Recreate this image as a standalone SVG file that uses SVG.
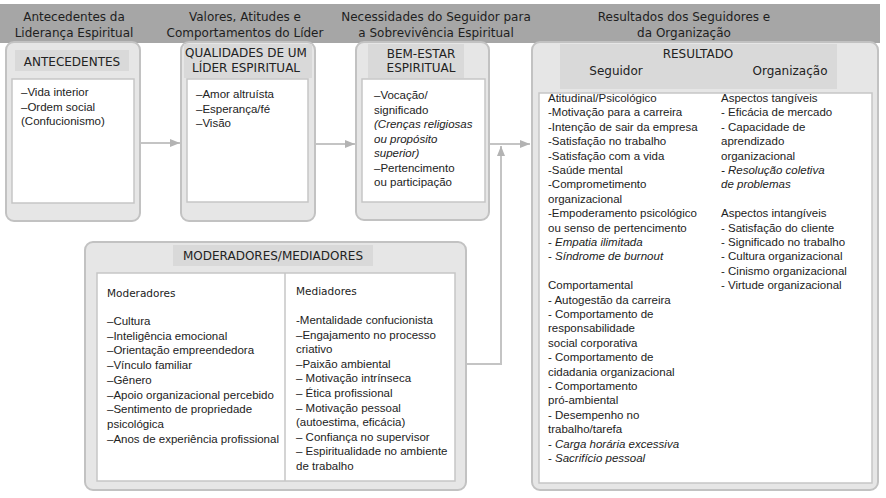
<svg xmlns="http://www.w3.org/2000/svg" width="886" height="498" viewBox="0 0 886 498">
<defs>
<marker id="arr" markerUnits="userSpaceOnUse" markerWidth="10" markerHeight="8" refX="10" refY="4" orient="auto">
<path d="M0,0 L10,4 L0,8 z" fill="#b3b3b3"/>
</marker>
<style>
.hdr{font-family:"DejaVu Sans",Verdana,sans-serif;font-size:12px;fill:#1e1e1e;text-anchor:middle}
.ttl{font-family:"DejaVu Sans",Verdana,sans-serif;font-size:12px;fill:#222;text-anchor:middle}
.sub{font-family:"DejaVu Sans",Verdana,sans-serif;font-size:10.5px;fill:#222}
.body{font-family:"Liberation Sans",Arial,sans-serif;font-size:11.5px;fill:#222}
.it{font-style:italic}
.frame{fill:#e6e6e6;stroke:#c2c2c2;stroke-width:2}
.tbg{fill:#d9d9d9}
.inner{fill:#ffffff;stroke:#c6c6c6;stroke-width:1.5}
.conn{fill:none;stroke:#c4c4c4;stroke-width:2}
</style>
</defs>
<rect width="886" height="498" fill="#ffffff"/>

<g id="header">
<rect x="0" y="4" width="880" height="39" fill="#a6a6a6"/>
<text class="hdr" x="74" y="21">Antecedentes da</text>
<text class="hdr" x="74" y="37">Liderança Espiritual</text>
<text class="hdr" x="245" y="21">Valores, Atitudes e</text>
<text class="hdr" x="245" y="37">Comportamentos do Líder</text>
<text class="hdr" x="436" y="21">Necessidades do Seguidor para</text>
<text class="hdr" x="436" y="37">a Sobrevivência Espiritual</text>
<text class="hdr" x="684" y="21">Resultados dos Seguidores e</text>
<text class="hdr" x="684" y="37">da Organização</text>
</g>

<g id="connectors">
<path class="conn" d="M140,143 L180,143" marker-end="url(#arr)"/>
<path class="conn" d="M315,144 L355,144" marker-end="url(#arr)"/>
<path class="conn" d="M489,144 L530,144" marker-end="url(#arr)"/>
<path class="conn" d="M466,364 L501,364 L501,146" marker-end="url(#arr)"/>
</g>

<g id="antecedentes">
<rect class="frame" x="6" y="42" width="134" height="179" rx="8"/>
<rect class="tbg" x="15" y="50" width="114" height="21"/>
<text class="ttl" x="72" y="66">ANTECEDENTES</text>
<rect class="inner" x="12" y="79" width="122" height="124"/>
<text class="body" x="21" y="96">–Vida interior</text>
<text class="body" x="21" y="110.5">–Ordem social</text>
<text class="body" x="21" y="125">(Confucionismo)</text>
</g>

<g id="qualidades">
<rect class="frame" x="181" y="42" width="134" height="179" rx="8"/>
<rect class="tbg" x="184" y="44" width="128" height="34"/>
<text class="ttl" x="246" y="57">QUALIDADES DE UM</text>
<text class="ttl" x="246" y="72">LÍDER ESPIRITUAL</text>
<rect class="inner" x="187" y="79" width="121" height="123"/>
<text class="body" x="196" y="98">–Amor altruísta</text>
<text class="body" x="196" y="112.5">–Esperança/fé</text>
<text class="body" x="196" y="127">–Visão</text>
</g>

<g id="bem-estar">
<rect class="frame" x="356" y="42" width="133" height="178" rx="8"/>
<rect class="tbg" x="368" y="44" width="96" height="34"/>
<text class="ttl" x="421" y="58">BEM-ESTAR</text>
<text class="ttl" x="421" y="72">ESPIRITUAL</text>
<rect class="inner" x="362" y="79" width="123" height="123"/>
<text class="body" x="374" y="99">–Vocação/</text>
<text class="body" x="374" y="113.5">significado</text>
<text class="body it" x="374" y="128">(Crenças religiosas</text>
<text class="body it" x="374" y="142.5">ou propósito</text>
<text class="body it" x="374" y="157">superior)</text>
<text class="body" x="374" y="171.5">–Pertencimento</text>
<text class="body" x="374" y="186">ou participação</text>
</g>

<g id="resultado">
<rect class="frame" x="532" y="42" width="346" height="448" rx="8"/>
<rect class="tbg" x="560" y="44" width="277" height="45"/>
<text class="ttl" x="698" y="58">RESULTADO</text>
<text class="ttl" x="616" y="75">Seguidor</text>
<text class="ttl" x="790" y="75">Organização</text>
<rect class="inner" x="539" y="93" width="333" height="390"/>
<text class="body" x="548">
<tspan x="548" y="102">Atitudinal/Psicológico</tspan>
<tspan x="548" y="116.4">-Motivação para a carreira</tspan>
<tspan x="548" y="130.8">-Intenção de sair da empresa</tspan>
<tspan x="548" y="145.2">-Satisfação no trabalho</tspan>
<tspan x="548" y="159.6">-Satisfação com a vida</tspan>
<tspan x="548" y="174">-Saúde mental</tspan>
<tspan x="548" y="188.4">-Comprometimento</tspan>
<tspan x="548" y="202.8">organizacional</tspan>
<tspan x="548" y="217.2">-Empoderamento psicológico</tspan>
<tspan x="548" y="231.6">ou senso de pertencimento</tspan>
<tspan x="548" y="246">- </tspan><tspan class="it">Empatia ilimitada</tspan>
<tspan x="548" y="260.4">- </tspan><tspan class="it">Síndrome de burnout</tspan>
<tspan x="548" y="289.2">Comportamental</tspan>
<tspan x="548" y="303.6">- Autogestão da carreira</tspan>
<tspan x="548" y="318">- Comportamento de</tspan>
<tspan x="548" y="332.4">responsabilidade</tspan>
<tspan x="548" y="346.8">social corporativa</tspan>
<tspan x="548" y="361.2">- Comportamento de</tspan>
<tspan x="548" y="375.6">cidadania organizacional</tspan>
<tspan x="548" y="390">- Comportamento</tspan>
<tspan x="548" y="404.4">pró-ambiental</tspan>
<tspan x="548" y="418.8">- Desempenho no</tspan>
<tspan x="548" y="433.2">trabalho/tarefa</tspan>
<tspan x="548" y="447.6">- </tspan><tspan class="it">Carga horária excessiva</tspan>
<tspan x="548" y="462">- </tspan><tspan class="it">Sacrifício pessoal</tspan>
</text>
<text class="body" x="721">
<tspan x="721" y="102">Aspectos tangíveis</tspan>
<tspan x="721" y="116.4">- Eficácia de mercado</tspan>
<tspan x="721" y="130.8">- Capacidade de</tspan>
<tspan x="721" y="145.2">aprendizado</tspan>
<tspan x="721" y="159.6">organizacional</tspan>
<tspan x="721" y="174" class="it">- Resolução coletiva</tspan>
<tspan x="721" y="188.4" class="it">de problemas</tspan>
<tspan x="721" y="217.2">Aspectos intangíveis</tspan>
<tspan x="721" y="231.6">- Satisfação do cliente</tspan>
<tspan x="721" y="246">- Significado no trabalho</tspan>
<tspan x="721" y="260.4">- Cultura organizacional</tspan>
<tspan x="721" y="274.8">- Cinismo organizacional</tspan>
<tspan x="721" y="289.2">- Virtude organizacional</tspan>
</text>
</g>

<g id="moderadores-mediadores">
<rect class="frame" x="85" y="242" width="381" height="248" rx="8"/>
<rect class="tbg" x="173" y="245" width="200" height="21"/>
<text class="ttl" x="273" y="260">MODERADORES/MEDIADORES</text>
<rect class="inner" x="97" y="273" width="358" height="208"/>
<line x1="285" y1="273" x2="285" y2="481" stroke="#c6c6c6" stroke-width="1.5"/>
<text class="sub" x="107" y="297">Moderadores</text>
<text class="body" x="107">
<tspan x="107" y="325">–Cultura</tspan>
<tspan x="107" y="339.7">–Inteligência emocional</tspan>
<tspan x="107" y="354.4">–Orientação empreendedora</tspan>
<tspan x="107" y="369.1">–Vínculo familiar</tspan>
<tspan x="107" y="383.8">–Gênero</tspan>
<tspan x="107" y="398.5">–Apoio organizacional percebido</tspan>
<tspan x="107" y="413.2">–Sentimento de propriedade</tspan>
<tspan x="107" y="427.9">psicológica</tspan>
<tspan x="107" y="442.6">–Anos de experiência profissional</tspan>
</text>
<text class="sub" x="296" y="295">Mediadores</text>
<text class="body" x="296">
<tspan x="296" y="324">-Mentalidade confucionista</tspan>
<tspan x="296" y="338.6">–Engajamento no processo</tspan>
<tspan x="296" y="353.2">criativo</tspan>
<tspan x="296" y="367.8">–Paixão ambiental</tspan>
<tspan x="296" y="382.4">– Motivação intrínseca</tspan>
<tspan x="296" y="397">– Ética profissional</tspan>
<tspan x="296" y="411.6">– Motivação pessoal</tspan>
<tspan x="296" y="426.2"> (autoestima, eficácia)</tspan>
<tspan x="296" y="440.8">– Confiança no supervisor</tspan>
<tspan x="296" y="455.4">– Espiritualidade no ambiente</tspan>
<tspan x="296" y="470">de trabalho</tspan>
</text>
</g>
</svg>
